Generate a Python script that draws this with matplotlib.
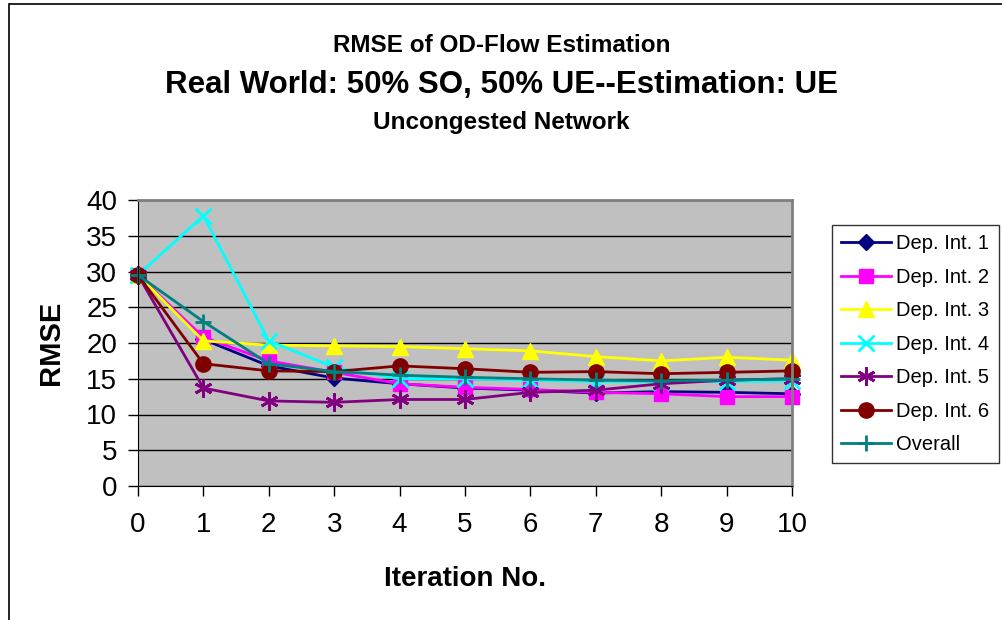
import matplotlib
matplotlib.use("Agg")
from matplotlib import pyplot as plt
from matplotlib.patches import Rectangle

plt.rcParams['font.family'] = ['Liberation Sans', 'DejaVu Sans']

iterations = [0, 1, 2, 3, 4, 5, 6, 7, 8, 9, 10]

dep1 = [29.5, 20.5, 16.8, 15.1, 14.3, 13.7, 13.4, 13.0, 13.2, 13.1, 12.9]
dep2 = [29.5, 20.8, 17.5, 15.9, 14.3, 13.8, 13.5, 13.1, 12.9, 12.5, 12.5]
dep3 = [29.5, 20.3, 19.7, 19.6, 19.5, 19.2, 18.9, 18.1, 17.5, 18.0, 17.6]
dep4 = [29.5, 37.8, 20.3, 16.6, 15.0, 15.0, 14.8, 14.6, 14.6, 14.6, 14.7]
dep5 = [29.5, 13.7, 11.9, 11.7, 12.1, 12.1, 13.1, 13.4, 14.3, 14.8, 15.0]
dep6 = [29.5, 17.1, 16.1, 16.0, 16.8, 16.4, 15.9, 16.0, 15.7, 15.9, 16.1]
overall = [29.5, 23.0, 17.1, 16.0, 15.5, 15.2, 15.0, 14.8, 14.7, 14.8, 15.0]

series = [
    ('Dep. Int. 1', dep1, '#000080', 'D', 8),
    ('Dep. Int. 2', dep2, '#FF00FF', 's', 10),
    ('Dep. Int. 3', dep3, '#FFFF00', '^', 11),
    ('Dep. Int. 4', dep4, '#00FFFF', 'x', 11),
    ('Dep. Int. 5', dep5, '#800080', (6, 2, 0), 13),
    ('Dep. Int. 6', dep6, '#800000', 'o', 11),
    ('Overall', overall, '#008080', '+', 12),
]

fig = plt.figure(figsize=(10.03, 6.2), dpi=100)
ax = fig.add_axes([138 / 1003, 1 - 486 / 620, (792 - 138) / 1003, (486 - 200) / 620])
ax.set_facecolor('#C0C0C0')

for label, vals, color, marker, ms in series:
    mew = 2 if marker in ('x', '+', (6, 2, 0)) else 1
    ax.plot(iterations, vals, color=color, marker=marker, markersize=ms,
            markeredgewidth=mew, linewidth=2, label=label, clip_on=False)

ax.set_xlim(0, 10)
ax.set_ylim(0, 40)
ax.set_xticks(range(0, 11))
ax.set_yticks(range(0, 41, 5))
ax.yaxis.grid(True, color='black', linewidth=1)
ax.set_axisbelow(True)
ax.tick_params(axis='both', labelsize=20, direction='out', length=7, width=1)
ax.tick_params(axis='x', pad=12)
ax.tick_params(axis='y', pad=8)
for side in ('top', 'right'):
    ax.spines[side].set_color('#808080')
    ax.spines[side].set_linewidth(2)
for side in ('left', 'bottom'):
    ax.spines[side].set_color('black')

ax.set_xlabel('Iteration No.', fontsize=20, fontweight='bold', labelpad=20)
ax.set_ylabel('RMSE', fontsize=21, fontweight='bold', labelpad=15)

fig.text(0.5, 1 - 46 / 620, 'RMSE of OD-Flow Estimation', ha='center', va='center',
         fontsize=17.5, fontweight='bold')
fig.text(0.5, 1 - 85 / 620, 'Real World: 50% SO, 50% UE--Estimation: UE', ha='center',
         va='center', fontsize=22.5, fontweight='bold')
fig.text(0.5, 1 - 122 / 620, 'Uncongested Network', ha='center', va='center',
         fontsize=17.5, fontweight='bold')

leg = fig.legend(loc='upper left', bbox_to_anchor=(832 / 1003, 1 - 225 / 620),
                 fontsize=14.5, frameon=True, fancybox=False, edgecolor='black',
                 borderpad=0.45, labelspacing=0.72, handlelength=2.5, handletextpad=0.25,
                 borderaxespad=0)
leg.get_frame().set_linewidth(1)

fig.patches.append(Rectangle((9 / 1003, -0.05), 1.2, 1 - 4 / 620 + 0.05,
                             transform=fig.transFigure, fill=False,
                             edgecolor='black', linewidth=1.2))

fig.savefig('out.png', dpi=100)
